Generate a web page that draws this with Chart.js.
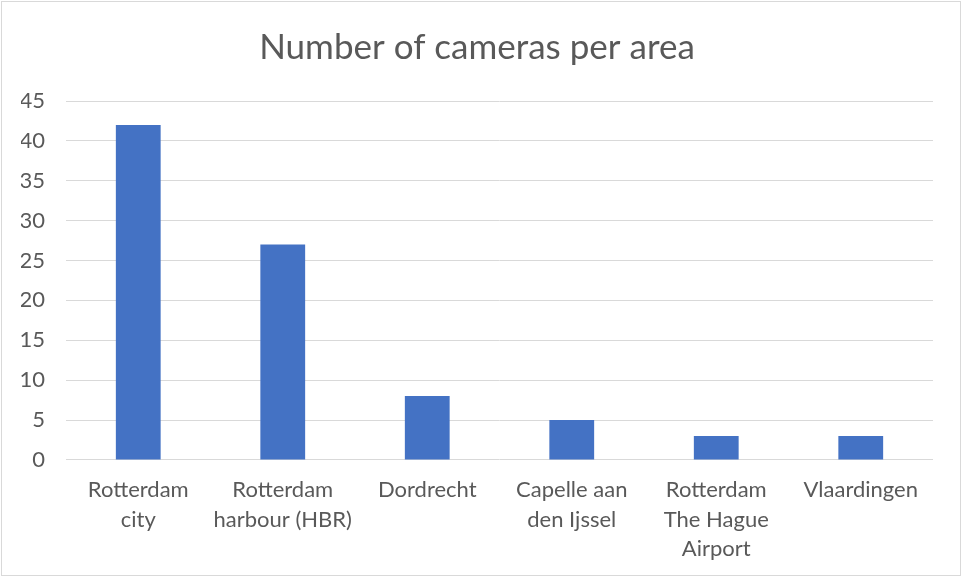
<!DOCTYPE html>
<html>
<head>
<meta charset="utf-8">
<script src="https://cdn.jsdelivr.net/npm/chart.js@4"></script>
<style>
    body { margin: 0; background: #fff; }
    #box { position: absolute; left: 1px; top: 1px; width: 960px; height: 575px; border: 1px solid #d9d9d9; box-sizing: border-box; }
</style>
</head>
<body>
<div id="box"><canvas id="Cams"></canvas></div>
<script>
var areas = [
    ['Rotterdam', 'city'],
    ['Rotterdam', 'harbour (HBR)'],
    ['Dordrecht'],
    ['Capelle aan', 'den Ijssel'],
    ['Rotterdam', 'The Hague', 'Airport'],
    ['Vlaardingen']
]
var cameras = [42, 27, 8, 5, 3, 3]
var yTicks = [0, 5, 10, 15, 20, 25, 30, 35, 40, 45]

window.onload = () => {
    var ctx = document.getElementById('Cams').getContext('2d')
    var myChart = new Chart(ctx, {
        type: 'bar',
        data: {
            labels: areas,
            datasets: [{
                data: cameras,
                backgroundColor: '#4472C4',
                categoryPercentage: 1,
                barPercentage: 0.31
            }]
        },
        options: {
            responsive: true,
            maintainAspectRatio: false,
            animation: false,
            layout: { padding: { left: 19, right: 27, top: 10, bottom: 4 } },
            plugins: {
                legend: { display: false },
                tooltip: { enabled: false },
                title: {
                    display: true,
                    text: 'Number of cameras per area',
                    color: '#595959',
                    font: { family: 'Lato', size: 35, weight: 'normal' },
                    padding: { top: 15, bottom: 32 }
                }
            },
            scales: {
                x: {
                    grid: { display: false },
                    border: { display: false },
                    ticks: {
                        color: '#595959',
                        font: { family: 'Lato', size: 22, lineHeight: 1.35 },
                        maxRotation: 0,
                        autoSkip: false,
                        padding: 7
                    }
                },
                y: {
                    min: 0,
                    max: 45,
                    afterBuildTicks: (axis) => {
                        axis.ticks = yTicks.map(v => ({ value: v }))
                    },
                    // labels sit 21px left of the grid, no extra gap on the outside
                    afterFit: (axis) => {
                        axis.width = 45
                    },
                    grid: { color: '#d9d9d9', lineWidth: 1, drawTicks: false },
                    border: { display: false },
                    ticks: {
                        color: '#595959',
                        font: { family: 'Lato', size: 22 },
                        padding: 21
                    }
                }
            }
        }
    })
}
</script>
</body>
</html>
